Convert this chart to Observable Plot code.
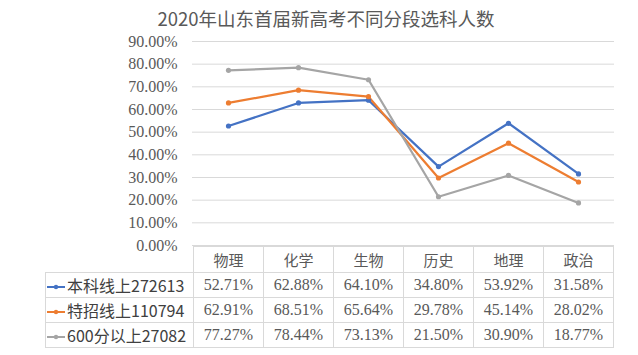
<!DOCTYPE html>
<html><head><meta charset="utf-8">
<script src="https://cdn.jsdelivr.net/npm/d3@7"></script>
<script src="https://cdn.jsdelivr.net/npm/@observablehq/plot@0.6"></script>
<style>
body{margin:0;background:#fff;}
#wrap{position:relative;width:638px;height:355px;overflow:hidden;background:#fff;}
#wrap > svg{position:absolute;left:0;top:0;}
#title{position:absolute;left:0;top:7px;width:652px;text-align:center;font-size:18.5px;line-height:22px;font-family:"Noto Sans CJK SC",sans-serif;color:#595959;}
#tbl{position:absolute;border-collapse:collapse;table-layout:fixed;}
#tbl td{border:1px solid #d9d9d9;padding:0;text-align:center;white-space:nowrap;overflow:hidden;}
#tbl td.num{font-family:"Liberation Serif","Times New Roman",serif;font-size:16px;color:#595959;}
#tbl td.hd{font-family:"Noto Sans CJK SC",sans-serif;font-size:15px;color:#595959;}
#tbl td.lg{font-family:"Noto Sans CJK SC",sans-serif;font-size:16px;color:#404040;text-align:left;}
#tbl td.blank{border-top:none;border-left:none;}
#tbl svg{vertical-align:middle;margin-right:1px;}
.yl text{font-family:"Liberation Serif","Times New Roman",serif !important;font-size:16px !important;fill:#595959;}
</style>
</head><body>
<div id="wrap"><div id="title"></div></div>
<script>
const titleText = "2020年山东首届新高考不同分段选科人数";
const categories = ["物理","化学","生物","历史","地理","政治"];
const seriesNames = ["本科线上272613","特招线上110794","600分以上27082"];
const benke = [52.71,62.88,64.10,34.80,53.92,31.58];
const tezhao = [62.91,68.51,65.64,29.78,45.14,28.02];
const above600 = [77.27,78.44,73.13,21.50,30.90,18.77];
const seriesColors = ["#4472C4","#ED7D31","#A5A5A5"];
const yTicks = [0,10,20,30,40,50,60,70,80,90];
const serif = '"Liberation Serif","Times New Roman",serif';

const seriesValues = [benke, tezhao, above600];
const data = seriesNames.flatMap((s,i)=>categories.map((c,j)=>({series:s, subject:c, value:seriesValues[i][j]})));

const chart = Plot.plot({
  width:638, height:355,
  marginLeft:192, marginRight:24, marginTop:41, marginBottom:110,
  x:{type:"point", domain:categories, padding:0.5, axis:null},
  y:{domain:[0,90], label:null},
  color:{domain:seriesNames, range:seriesColors},
  style:{color:"#595959", background:"transparent", overflow:"visible"},
  marks:[
    Plot.gridY(yTicks,{stroke:"#d9d9d9", strokeOpacity:1, strokeWidth:1}),
    Plot.axisY(yTicks,{tickFormat:d=>d.toFixed(2)+"%", tickSize:0, tickPadding:15, label:null,
      fontSize:16, fontFamily:serif, fill:"#595959", className:"yl"}),
    Plot.line(data,{x:"subject", y:"value", z:"series", stroke:"series", strokeWidth:2.25}),
    Plot.dot(data,{x:"subject", y:"value", fill:"series", r:2.6})
  ]
});
const wrap = document.getElementById("wrap");
document.getElementById("title").textContent = titleText;
wrap.appendChild(chart);
d3.select(chart).selectAll('g[aria-label="y-axis tick label"] text').style("font-family", serif).style("font-size","16px");

// data table aligned to the x scale
const xs = chart.scale("x");
const ys = chart.scale("y");
const step = xs.apply(categories[1]) - xs.apply(categories[0]);
const left0 = xs.apply(categories[0]) - step/2;
const tableLeft = 45;
const tbl = document.createElement("table");
tbl.id = "tbl";
tbl.style.left = tableLeft + "px";
tbl.style.top = (ys.apply(0) + 0.5) + "px";
const colg = document.createElement("colgroup");
const c0 = document.createElement("col"); c0.style.width = (left0 - tableLeft) + "px"; colg.appendChild(c0);
categories.forEach(()=>{const c=document.createElement("col"); c.style.width = step+"px"; colg.appendChild(c);});
tbl.appendChild(colg);
const hr = document.createElement("tr");
hr.style.height = "26px";
const b = document.createElement("td"); b.className="blank"; hr.appendChild(b);
categories.forEach(c=>{const td=document.createElement("td"); td.className="hd"; td.textContent=c; hr.appendChild(td);});
tbl.appendChild(hr);
seriesNames.forEach((s,i)=>{
  const tr=document.createElement("tr"); tr.style.height="25px";
  const td=document.createElement("td"); td.className="lg";
  td.innerHTML = `<svg width="20" height="10"><line x1="1" x2="19" y1="5" y2="5" stroke="${seriesColors[i]}" stroke-width="2"/><circle cx="10" cy="5" r="2.2" fill="${seriesColors[i]}"/></svg>`;
  td.appendChild(document.createTextNode(s));
  tr.appendChild(td);
  seriesValues[i].forEach(v=>{const c=document.createElement("td"); c.className="num"; c.textContent=v.toFixed(2)+"%"; tr.appendChild(c);});
  tbl.appendChild(tr);
});
wrap.appendChild(tbl);
</script>
</body></html>
